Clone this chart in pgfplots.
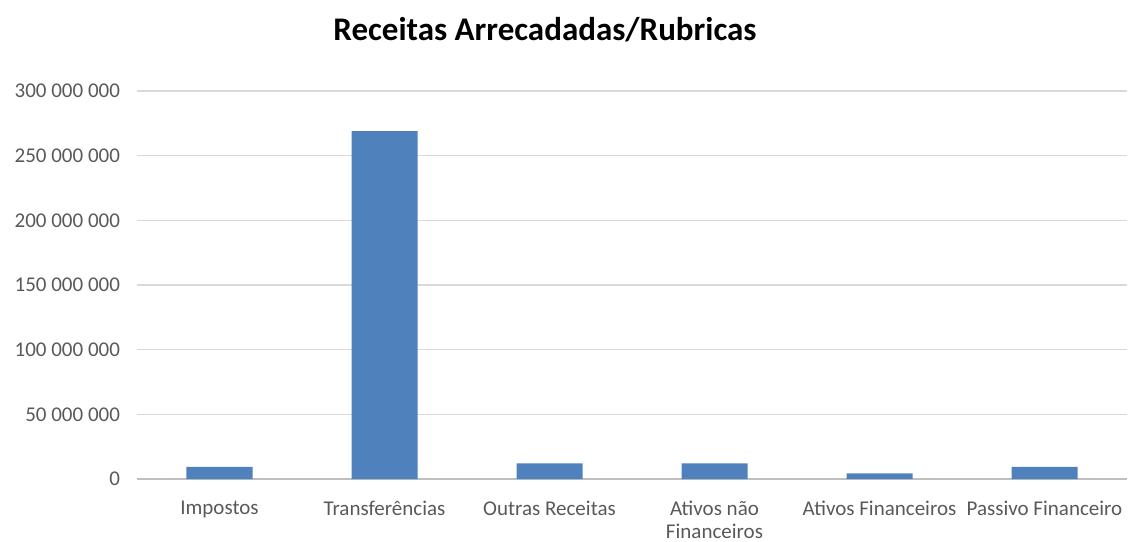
\documentclass[border=0pt]{standalone}
\usepackage{fontspec}
\setmainfont{Carlito}
\usepackage{pgfplots}
\pgfplotsset{compat=1.18}
\definecolor{barblue}{HTML}{4F81BD}
\definecolor{gridgray}{HTML}{D9D9D9}
\definecolor{axisgray}{HTML}{BFBFBF}
\definecolor{textgray}{HTML}{595959}

\begin{document}
\begin{tikzpicture}
  \useasboundingbox (0,0) rectangle (565pt,270.5pt);
  \node[font=\fontsize{16.5}{19}\selectfont\bfseries] at (272.5pt,255.5pt) {Receitas Arrecadadas/Rubricas};
  \begin{axis}[
    at={(68.5pt,31pt)}, anchor=south west,
    scale only axis,
    width=495pt, height=194pt,
    ybar, bar width=33pt,
    xmin=-0.5, xmax=5.5,
    ymin=0, ymax=300000000,
    ytick={0,50000000,100000000,150000000,200000000,250000000,300000000},
    xtick=data,
    xticklabels={Impostos, Transferências, Outras Receitas, {Ativos não\\Financeiros}, Ativos Financeiros, Passivo Financeiro},
    xticklabel style={font=\fontsize{10.5}{11.5}\selectfont, text=textgray, align=center, anchor=north, yshift=-3pt},
    yticklabel style={font=\fontsize{10.5}{12.5}\selectfont, text=textgray, xshift=-5pt},
    scaled y ticks=false,
    /pgf/number format/.cd, fixed, 1000 sep={\ }, assume math mode=true,
    /pgfplots/.cd,
    ymajorgrids, grid style={gridgray, line width=0.6pt},
    axis x line*=bottom,
    axis y line*=left,
    x axis line style={axisgray, line width=0.6pt, -},
    y axis line style={draw=none},
    tick style={draw=none},
    enlargelimits=false,
    clip=false,
  ]
    \addplot[fill=barblue, draw=none] coordinates {
      (0,9300000) (1,269000000) (2,12100000) (3,12100000) (4,4400000) (5,9300000)
    };
  \end{axis}
\end{tikzpicture}
\end{document}
